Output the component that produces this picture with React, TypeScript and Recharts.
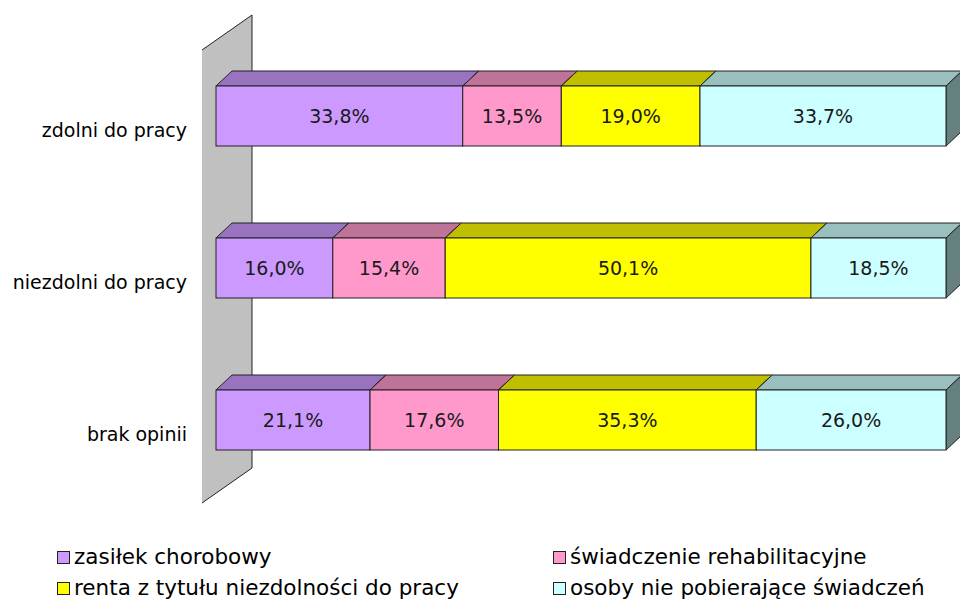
import { Bar, BarChart, Customized, LabelList, XAxis, YAxis } from 'recharts'

const CATEGORIES = ['zdolni do pracy', 'niezdolni do pracy', 'brak opinii']
const ZASILEK = [33.8, 16.0, 21.1]
const SWIADCZENIE = [13.5, 15.4, 17.6]
const RENTA = [19.0, 50.1, 35.3]
const BEZ_SWIADCZEN = [33.7, 18.5, 26.0]

const SERIES = [
  { key: 'zasilek', name: 'zasiłek chorobowy', front: '#cc99ff', top: '#9973bf', side: '#664d80' },
  { key: 'swiadczenie', name: 'świadczenie rehabilitacyjne', front: '#ff99cc', top: '#bf7399', side: '#804d66' },
  { key: 'renta', name: 'renta z tytułu niezdolności do pracy', front: '#ffff00', top: '#bfbf00', side: '#808000' },
  { key: 'bez', name: 'osoby nie pobierające świadczeń', front: '#ccffff', top: '#99bfbf', side: '#668080' },
]

const data = CATEGORIES.map((name, i) => ({
  name,
  zasilek: ZASILEK[i],
  swiadczenie: SWIADCZENIE[i],
  renta: RENTA[i],
  bez: BEZ_SWIADCZEN[i],
}))

const FONT = 'DejaVu Sans, sans-serif'
const DX = 16
const DY = 15

const fmtPct = (v: unknown) => `${Number(v).toFixed(1).replace('.', ',')}%`

function Box3D({ x, y, width, height, front, top, side }: any) {
  const r = x + width
  const b = y + height
  return (
    <g>
      <polygon
        points={`${x},${y} ${r},${y} ${r + DX},${y - DY} ${x + DX},${y - DY}`}
        fill={top}
        stroke="#222"
        strokeWidth={1}
      />
      <polygon
        points={`${r},${y} ${r + DX},${y - DY} ${r + DX},${b - DY} ${r},${b}`}
        fill={side}
        stroke="#222"
        strokeWidth={1}
      />
      <rect x={x} y={y} width={width} height={height} fill={front} stroke="#222" strokeWidth={1} />
    </g>
  )
}

// grey back wall of the 3D category axis
function Wall() {
  return (
    <g>
      <polygon points="202,50 252,15 252,468 202,503" fill="#c0c0c0" />
      <polyline points="202,50 252,15 252,468 202,503" fill="none" stroke="#222" strokeWidth={1} />
    </g>
  )
}

function CategoryTick({ y, payload }: any) {
  return (
    <text
      x={187}
      y={y + 14}
      textAnchor="end"
      dominantBaseline="central"
      fill="#000"
      fontSize={19}
      fontFamily={FONT}
    >
      {payload.value}
    </text>
  )
}

function LegendBox() {
  return (
    <div
      style={{
        position: 'absolute',
        left: 57,
        top: 545,
        display: 'grid',
        gridTemplateColumns: '496px 400px',
        rowGap: 7,
        fontFamily: FONT,
        fontSize: 21.5,
        color: '#000',
        lineHeight: '24px',
      }}
    >
      {SERIES.map((s) => (
        <div key={s.key} style={{ display: 'flex', alignItems: 'center', whiteSpace: 'nowrap' }}>
          <span
            style={{
              display: 'inline-block',
              width: 11,
              height: 11,
              border: '1px solid #222',
              background: s.front,
              marginRight: 4,
            }}
          />
          {s.name}
        </div>
      ))}
    </div>
  )
}

export default function App() {
  return (
    <div style={{ position: 'absolute', left: 0, top: 0, width: 960, height: 602, background: '#fff' }}>
      <BarChart
        width={960}
        height={602}
        data={data}
        layout="vertical"
        margin={{ top: 40, right: 14, bottom: 106, left: 0 }}
      >
        <Customized component={Wall} />
        <XAxis type="number" domain={[0, 100]} hide />
        <YAxis
          type="category"
          dataKey="name"
          width={216}
          axisLine={false}
          tickLine={false}
          tick={CategoryTick}
        />
        {SERIES.map((s) => (
          <Bar
            key={s.key}
            dataKey={s.key}
            name={s.name}
            stackId="a"
            barSize={60}
            isAnimationActive={false}
            shape={(p: any) => <Box3D {...p} front={s.front} top={s.top} side={s.side} />}
          >
            <LabelList
              dataKey={s.key}
              position="center"
              formatter={fmtPct}
              style={{ fill: '#1a1a1a', fontSize: 19, fontFamily: FONT }}
            />
          </Bar>
        ))}
      </BarChart>
      <LegendBox />
    </div>
  )
}
